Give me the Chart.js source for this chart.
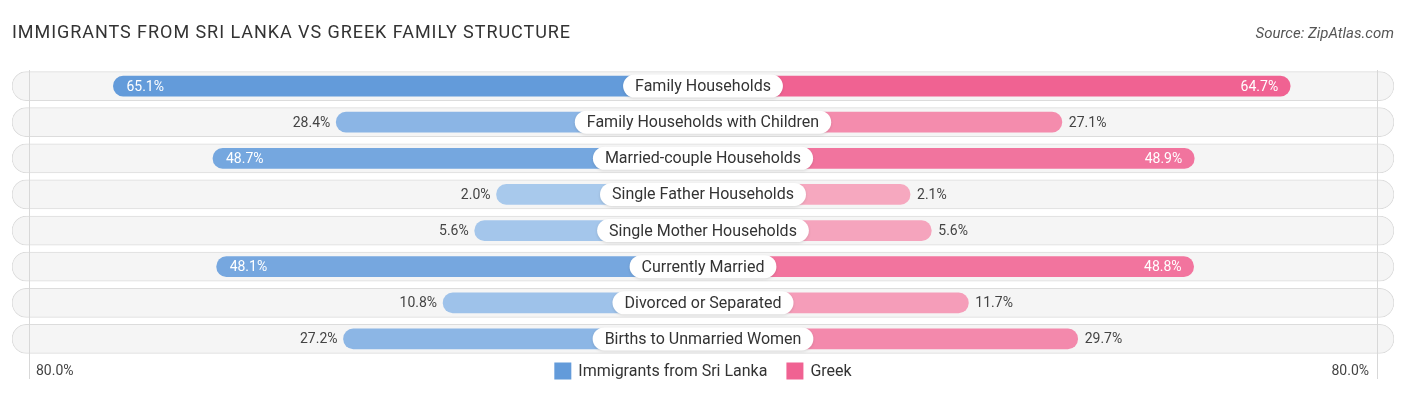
<!DOCTYPE html>
<html>
<head>
<meta charset="utf-8">
<script src="https://cdn.jsdelivr.net/npm/chart.js@4"></script>
<style>
  html, body { margin: 0; padding: 0; background: #fff; }
  #wrap { position: relative; width: 1406px; height: 395px; overflow: hidden; }
  #title { position: absolute; left: 12px; top: 21px; font: 18px Roboto, sans-serif; color: #333; letter-spacing: 0.95px; }
  #source { position: absolute; right: 12px; top: 24px; font: italic 15px Roboto, sans-serif; color: #555; }
  canvas { position: absolute; left: 0; top: 0; }
</style>
</head>
<body>
<div id="wrap">
  <canvas id="chart" width="1406" height="395"></canvas>
  <div id="title">IMMIGRANTS FROM SRI LANKA VS GREEK FAMILY STRUCTURE</div>
  <div id="source">Source: ZipAtlas.com</div>
</div>
<script>
// data
const categories = [
    'Family Households',
    'Family Households with Children',
    'Married-couple Households',
    'Single Father Households',
    'Single Mother Households',
    'Currently Married',
    'Divorced or Separated',
    'Births to Unmarried Women'
];
const sriLanka = [65.1, 28.4, 48.7, 2.0, 5.6, 48.1, 10.8, 27.2];
const greek = [64.7, 27.1, 48.9, 2.1, 5.6, 48.8, 11.7, 29.7];
const seriesNames = ['Immigrants from Sri Lanka', 'Greek'];
const axisLabels = ['80.0%', '80.0%'];

// layout: bars start behind the centre label, so every bar gets a fixed offset
const OFFSET = 32;
const X_EDGE = 113.8;
const GRID_AT = 111;

const blueStrong = [99, 155, 218], blueLight = [170, 202, 237];
const pinkStrong = [240, 98, 146], pinkLight = [246, 170, 193];
const maxVal = Math.max(...sriLanka, ...greek);

function shade(light, strong, v) {
    const t = Math.min(1, v / maxVal);
    const c = light.map((l, i) => Math.round(l + (strong[i] - l) * t));
    return `rgb(${c[0]},${c[1]},${c[2]})`;
}

function roundRect(ctx, x, y, w, h, r) {
    ctx.beginPath();
    ctx.moveTo(x + r, y);
    ctx.lineTo(x + w - r, y);
    ctx.arc(x + w - r, y + r, r, -Math.PI / 2, Math.PI / 2);
    ctx.lineTo(x + r, y + h);
    ctx.arc(x + r, y + r, r, Math.PI / 2, Math.PI * 1.5);
    ctx.closePath();
}

const overlay = {
    id: 'overlay',
    afterDatasetsDraw(chart) {
        const { ctx, chartArea, scales: { x, y } } = chart;
        ctx.save();

        // thin vertical lines at the axis extremes
        ctx.strokeStyle = '#d8d8d8';
        ctx.lineWidth = 1;
        [-GRID_AT, GRID_AT].forEach(v => {
            const px = Math.round(x.getPixelForValue(v)) + 0.5;
            ctx.beginPath();
            ctx.moveTo(px, chartArea.top + 2);
            ctx.lineTo(px, chartArea.bottom + 22);
            ctx.stroke();
        });

        ctx.textBaseline = 'middle';
        categories.forEach((cat, i) => {
            const cy = y.getPixelForValue(i);
            const cx = x.getPixelForValue(0);

            // centre label
            ctx.font = '16px Roboto';
            const w = ctx.measureText(cat).width + 24;
            ctx.shadowColor = 'rgba(0,0,0,0.12)';
            ctx.shadowBlur = 3;
            ctx.shadowOffsetY = 1;
            ctx.fillStyle = '#fff';
            roundRect(ctx, cx - w / 2, cy - 11.5, w, 23, 11.5);
            ctx.fill();
            ctx.shadowColor = 'transparent';
            ctx.fillStyle = '#333';
            ctx.textAlign = 'center';
            ctx.fillText(cat, cx, cy + 1);

            // value labels
            ctx.font = '14px Roboto';
            const lv = sriLanka[i], rv = greek[i];
            const lx = x.getPixelForValue(-(OFFSET + lv));
            const rx = x.getPixelForValue(OFFSET + rv);
            if (lv > 35) {
                ctx.fillStyle = '#fff'; ctx.textAlign = 'left';
                ctx.fillText(lv.toFixed(1) + '%', lx + 13, cy + 1);
            } else {
                ctx.fillStyle = '#444'; ctx.textAlign = 'right';
                ctx.fillText(lv.toFixed(1) + '%', lx - 6, cy + 1);
            }
            if (rv > 35) {
                ctx.fillStyle = '#fff'; ctx.textAlign = 'right';
                ctx.fillText(rv.toFixed(1) + '%', rx - 12, cy + 1);
            } else {
                ctx.fillStyle = '#444'; ctx.textAlign = 'left';
                ctx.fillText(rv.toFixed(1) + '%', rx + 7, cy + 1);
            }
        });

        // axis end labels
        const ly = chartArea.bottom + 14;
        ctx.font = '14px Roboto';
        ctx.fillStyle = '#444';
        ctx.textAlign = 'left';
        ctx.fillText(axisLabels[0], x.getPixelForValue(-GRID_AT) + 7, ly);
        ctx.textAlign = 'right';
        ctx.fillText(axisLabels[1], x.getPixelForValue(GRID_AT) - 8, ly);

        // legend
        ctx.font = '16px Roboto';
        const box = 17, gap = 7, between = 19;
        const w0 = ctx.measureText(seriesNames[0]).width;
        const w1 = ctx.measureText(seriesNames[1]).width;
        const total = box + gap + w0 + between + box + gap + w1;
        let lx = x.getPixelForValue(0) - total / 2;
        const colors = [shade(blueLight, blueStrong, maxVal), shade(pinkLight, pinkStrong, maxVal)];
        [w0, w1].forEach((tw, k) => {
            ctx.fillStyle = colors[k];
            roundRect(ctx, lx, ly - box / 2, box, box, 2);
            ctx.fillRect(lx, ly - box / 2, box, box);
            ctx.fillStyle = '#333';
            ctx.textAlign = 'left';
            ctx.fillText(seriesNames[k], lx + box + gap, ly + 1);
            lx += box + gap + tw + between;
        });

        ctx.restore();
    }
};

new Chart(document.getElementById('chart'), {
    type: 'bar',
    data: {
        labels: categories,
        datasets: [
            {
                label: seriesNames[0],
                data: sriLanka.map(v => [-(OFFSET + v), 0]),
                backgroundColor: sriLanka.map(v => shade(blueLight, blueStrong, v)),
                barThickness: 20,
                borderRadius: 10,
                borderSkipped: false,
                grouped: false,
                order: 1
            },
            {
                label: seriesNames[1],
                data: greek.map(v => [0, OFFSET + v]),
                backgroundColor: greek.map(v => shade(pinkLight, pinkStrong, v)),
                barThickness: 20,
                borderRadius: 10,
                borderSkipped: false,
                grouped: false,
                order: 1
            },
            {
                label: 'track',
                data: categories.map(() => [-X_EDGE, X_EDGE]),
                backgroundColor: '#f5f5f5',
                borderColor: '#dcdcdc',
                borderWidth: 1,
                barThickness: 29,
                borderRadius: 14.5,
                borderSkipped: false,
                grouped: false,
                order: 3
            }
        ]
    },
    options: {
        indexAxis: 'y',
        responsive: false,
        devicePixelRatio: 1,
        animation: false,
        layout: { padding: { left: 12, right: 12, top: 68, bottom: 38 } },
        plugins: { legend: { display: false }, tooltip: { enabled: false } },
        scales: {
            x: { display: false, min: -X_EDGE, max: X_EDGE },
            y: { display: false }
        }
    },
    plugins: [overlay]
});
</script>
</body>
</html>
